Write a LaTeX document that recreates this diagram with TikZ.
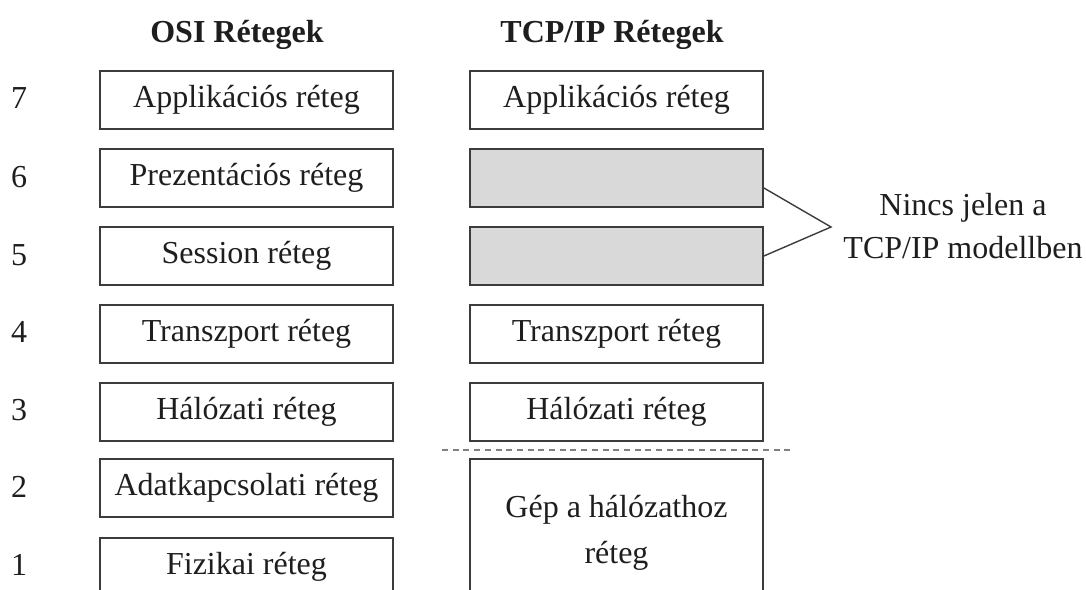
\documentclass[tikz,border=0pt]{standalone}
\usepackage{fontspec}
\setmainfont{Liberation Serif}
\definecolor{edge}{HTML}{3C3C3C}
\definecolor{ink}{HTML}{1E1E1E}
\definecolor{shade}{HTML}{D9D9D9}
\definecolor{dashgray}{HTML}{808080}
\begin{document}
\begin{tikzpicture}[x=1pt,y=-1pt,
  every node/.style={text=ink,font=\fontsize{32}{38}\selectfont},
  layerbox/.style={draw=edge,line width=1.8pt,rectangle,minimum width=293pt,minimum height=58pt,inner sep=0pt},
  layer/.style={layerbox,text height=22pt,text depth=7pt},
  absent/.style={layerbox,fill=shade},
  heading/.style={font=\fontsize{32}{38}\selectfont\bfseries,anchor=base},
  num/.style={anchor=base},
  link/.style={draw=edge,line width=1.4pt}]
\path[use as bounding box,clip] (0,0) rectangle (1086,589);
\fill[white] (0,0) rectangle (1086,589);

% column headings
\node[heading] (hosi) at (237,42) {OSI Rétegek};
\node[heading] (htcp) at (612,42) {TCP/IP Rétegek};

% layer numbers
\node[num] (n7) at (19,108) {7};
\node[num] (n6) at (19,187) {6};
\node[num] (n5) at (19,265) {5};
\node[num] (n4) at (19,342) {4};
\node[num] (n3) at (19,420) {3};
\node[num] (n2) at (19,497) {2};
\node[num] (n1) at (19,575) {1};

% OSI stack
\node[layer] (o7) at (246.5,100) {Applikációs réteg};
\node[layer] (o6) at (246.5,178) {Prezentációs réteg};
\node[layer] (o5) at (246.5,256) {Session réteg};
\node[layer] (o4) at (246.5,334) {Transzport réteg};
\node[layer] (o3) at (246.5,412) {Hálózati réteg};
\node[layer] (o2) at (246.5,488) {Adatkapcsolati réteg};
\node[layer] (o1) at (246.5,567) {Fizikai réteg};

% TCP/IP stack
\node[layer] (t7) at (616.5,100) {Applikációs réteg};
\node[absent] (t6) at (616.5,178) {};
\node[absent] (t5) at (616.5,256) {};
\node[layer] (t4) at (616.5,334) {Transzport réteg};
\node[layer] (t3) at (616.5,412) {Hálózati réteg};
\node[layerbox,minimum height=147pt,align=center,
  font=\fontsize{32}{46}\selectfont] (t1) at (616.5,532.5) {Gép a hálózathoz\\réteg};

% boundary between network and link layers
\coordinate (dl) at (442,450);
\coordinate (dr) at (792,450);
\draw[draw=dashgray,line width=2.6pt,dash pattern=on 6pt off 4.7pt] (dl) -- (dr);

% note on the missing layers
\coordinate (tip) at (831,227);
\draw[link] (t6.east) ++(0,10) -- (tip) -- (t5.east);
\node[align=center,font=\fontsize{32}{43}\selectfont] (note) at (963,226) {Nincs jelen a\\TCP/IP modellben};
\end{tikzpicture}
\end{document}
